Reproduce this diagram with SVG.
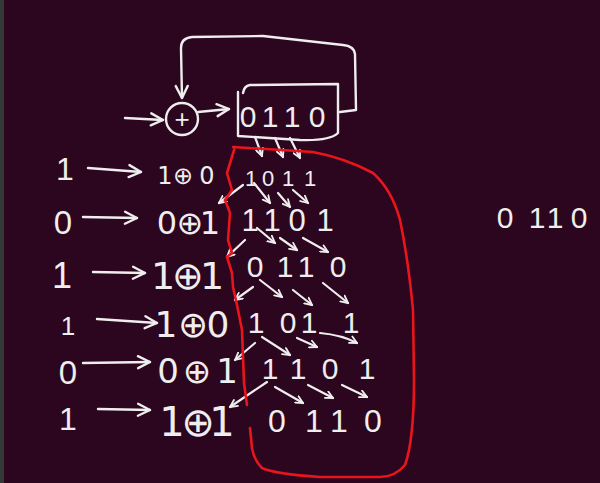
<svg xmlns="http://www.w3.org/2000/svg" width="600" height="483" viewBox="0 0 600 483">
<defs>
<style>
.s{fill:none;stroke:#eeeeee;stroke-width:2.4;stroke-linecap:round;stroke-linejoin:round}
.a{fill:none;stroke:#eeeeee;stroke-width:2.2;stroke-linecap:round;stroke-linejoin:round;marker-end:url(#ah)}
.al{fill:none;stroke:#eeeeee;stroke-width:2.4;stroke-linecap:round;stroke-linejoin:round;marker-end:url(#ahL)}
.t{fill:#eeeeee;font-family:"Liberation Sans","DejaVu Sans",sans-serif;text-anchor:middle}
.x{fill:#eeeeee;font-family:"DejaVu Sans","Liberation Sans",sans-serif;text-anchor:middle}
.red{fill:none;stroke:#e8161c;stroke-width:2.6;stroke-linecap:round;stroke-linejoin:round}
</style>
<marker id="ah" viewBox="0 0 10 10" refX="9" refY="5" markerWidth="9" markerHeight="9" markerUnits="userSpaceOnUse" orient="auto">
<path d="M1,1 L9,5 L1,9" fill="none" stroke="#eeeeee" stroke-width="2" stroke-linecap="round" stroke-linejoin="round"/>
</marker>
<marker id="ahL" viewBox="0 0 16 16" refX="14" refY="8" markerWidth="16" markerHeight="16" markerUnits="userSpaceOnUse" orient="auto">
<path d="M2,2 L14,8 L2,14" fill="none" stroke="#eeeeee" stroke-width="2.4" stroke-linecap="round" stroke-linejoin="round"/>
</marker>
</defs>
<rect x="0" y="0" width="600" height="483" fill="#2c051f"/>
<rect x="0" y="0" width="4" height="483" fill="#353838"/>

<g id="xor">
<circle class="s" cx="182" cy="119" r="16"/>
<text class="t" x="182" y="128" font-size="26">+</text>
</g>

<g id="register">
<path class="s" d="M238,92 L238,136 L300,140 Q330,141 338,133 L338,84 L250,85 Q244,86 243,93"/>
<text class="t" font-size="30" x="248 270 292 317" y="127">0110</text>
</g>

<g id="connectors">
<path class="al" d="M125,118 L163,120"/>
<path class="al" d="M198,112 L229,109"/>
<path class="al" d="M340,112 L356,110 L355,54 Q354,46 343,45 L263,36 L192,37 Q181,38 181,48 L182,98"/>
<path class="al" d="M88,168 L141,172"/>
<path class="al" d="M83,217 L137,218"/>
<path class="al" d="M93,272 L145,273"/>
<path class="al" d="M97,319 L157,323"/>
<path class="al" d="M83,363 L150,362"/>
<path class="al" d="M98,409 L150,410"/>
<path class="a" d="M255,137 L262,156"/>
<path class="a" d="M275,138 L283,157"/>
<path class="a" d="M290,138 L300,158"/>
<path class="a" d="M254,183 L270,203"/>
<path class="a" d="M278,193 L290,207"/>
<path class="a" d="M293,190 L308,203"/>
<path class="a" d="M243,185 L219,203"/>
<path class="a" d="M257,228 L275,243"/>
<path class="a" d="M280,238 L297,250"/>
<path class="a" d="M303,238 L328,252"/>
<path class="a" d="M245,240 L227,257"/>
<path class="a" d="M260,280 L282,297"/>
<path class="a" d="M293,290 L312,305"/>
<path class="a" d="M323,283 L348,303"/>
<path class="a" d="M253,287 L235,300"/>
<path class="a" d="M262,337 L290,355"/>
<path class="a" d="M297,338 L317,347"/>
<path class="a" d="M320,333 Q342,335 357,343"/>
<path class="a" d="M255,343 L235,360"/>
<path class="a" d="M275,387 L303,403"/>
<path class="a" d="M308,385 L333,398"/>
<path class="a" d="M342,385 L367,397"/>
<path class="a" d="M267,382 L230,407"/>
</g>

<g id="inputs">
<text class="t" font-size="32" x="65" y="180">1</text>
<text class="t" font-size="33" x="63" y="234">0</text>
<text class="t" font-size="36" x="62" y="288">1</text>
<text class="t" font-size="26" x="68" y="335">1</text>
<text class="t" font-size="33" x="68" y="384">0</text>
<text class="t" font-size="32" x="68" y="430">1</text>
</g>

<g id="expressions">
<text class="x" font-size="24" x="165 183 207" y="184">1⊕0</text>
<text class="x" font-size="32" x="167 190 210" y="234">0⊕1</text>
<text class="x" font-size="38" x="163 188 212" y="289">1⊕1</text>
<text class="x" font-size="36" x="166 193 218" y="337">1⊕0</text>
<text class="x" font-size="34" x="168 197 227" y="383">0⊕1</text>
<text class="x" font-size="40" x="172 198 222" y="436">1⊕1</text>
</g>

<g id="states">
<text class="t" font-size="22" x="251 268 288 310" y="186">1011</text>
<text class="t" font-size="31" x="250 272 297 325" y="231">1101</text>
<text class="t" font-size="30" x="255 285 306 338" y="277">0110</text>
<text class="t" font-size="30" x="256 288 309 351" y="333">1011</text>
<text class="t" font-size="30" x="270 298 330 367" y="379">1101</text>
<text class="t" font-size="32" x="277 314 339 373" y="432">0110</text>
</g>

<g id="result">
<text class="t" font-size="30" x="505 537 555 579" y="228">0110</text>
</g>

<g id="highlight">
<path class="red" d="M233,147 L313,152 Q345,158 373,173 Q392,190 400,220 Q408,258 413,310 L414,380 Q414,440 405,465 Q395,477 380,477 L320,477 Q275,474 262,468 Q254,460 252,448 L250,428 M247,405 L244,383 L242,330 L237,305 L233,287 L232,273 L227,257 L232,253 L228,240 L230,213 L225,200 L232,190 L227,173 L235,147"/>
</g>
</svg>
